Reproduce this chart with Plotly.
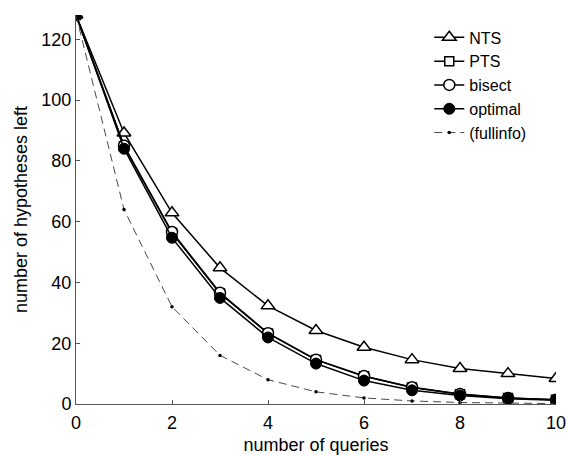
import plotly.graph_objects as go

queries = list(range(11))
nts = [128, 89.2, 62.9, 44.8, 32.3, 24.2, 18.7, 14.6, 11.7, 10.0, 8.4]
pts = [128, 84.8, 56.3, 36.4, 23.2, 14.5, 9.1, 5.4, 3.2, 2.0, 1.4]
bisect = [128, 85.0, 56.6, 36.6, 23.3, 14.6, 9.2, 5.5, 3.3, 2.0, 1.4]
optimal = [128, 84.0, 54.7, 34.9, 21.9, 13.3, 7.7, 4.5, 2.8, 1.7, 1.2]
fullinfo = [128, 64, 32, 16, 8, 4, 2, 1, 0.5, 0.25, 0.125]

FONT = "Liberation Sans, Arial, sans-serif"

fig = go.Figure()
lw = 1.5
fig.add_trace(go.Scatter(x=queries, y=nts, name="NTS", mode="lines+markers",
    line=dict(color="black", width=lw),
    marker=dict(symbol="triangle-up", size=12, color="white", line=dict(color="black", width=1.5))))
fig.add_trace(go.Scatter(x=queries, y=pts, name="PTS", mode="lines+markers",
    line=dict(color="black", width=lw),
    marker=dict(symbol="square", size=9, color="white", line=dict(color="black", width=1.5))))
fig.add_trace(go.Scatter(x=queries, y=bisect, name="bisect", mode="lines+markers",
    line=dict(color="black", width=lw),
    marker=dict(symbol="circle", size=11, color="white", line=dict(color="black", width=1.5))))
fig.add_trace(go.Scatter(x=queries, y=optimal, name="optimal", mode="lines+markers",
    line=dict(color="black", width=lw),
    marker=dict(symbol="circle", size=11, color="black", line=dict(color="black", width=1))))
fig.add_trace(go.Scatter(x=queries, y=fullinfo, name="(fullinfo)", mode="lines+markers",
    line=dict(color="#333333", width=0.9, dash="8px,5px"),
    marker=dict(symbol="circle", size=3.5, color="black")))

axis_common = dict(
    showline=True, linecolor="#555555", linewidth=1,
    ticks="inside", ticklen=4, tickcolor="#555555", tickwidth=1,
    showgrid=False, zeroline=False, mirror=False, automargin=False,
    tickfont=dict(family=FONT, size=18, color="black"),
)
fig.update_xaxes(range=[0, 10], tickvals=[0, 2, 4, 6, 8, 10], ticklabelstandoff=2,
    title=dict(text="number of queries", standoff=10,
               font=dict(family=FONT, size=18, color="black")),
    **axis_common)
fig.update_yaxes(range=[0, 128], tickvals=[0, 20, 40, 60, 80, 100, 120], ticklabelstandoff=0,
    title=dict(text="number of hypotheses left", standoff=9,
               font=dict(family=FONT, size=18, color="black")),
    **axis_common)

fig.update_layout(
    width=568, height=455,
    margin=dict(l=76, r=12, t=15, b=51, pad=0),
    plot_bgcolor="white", paper_bgcolor="white",
    font=dict(family=FONT, size=18, color="black"),
    showlegend=True,
    legend=dict(x=0.736, y=0.986, xanchor="left", yanchor="top",
                bgcolor="rgba(0,0,0,0)", borderwidth=0,
                tracegroupgap=0, itemwidth=30,
                font=dict(family=FONT, size=16, color="black")),
)

fig.write_html("out.html", config={"displayModeBar": False},
               post_script="document.body.style.margin='0';document.body.style.overflow='hidden';")
